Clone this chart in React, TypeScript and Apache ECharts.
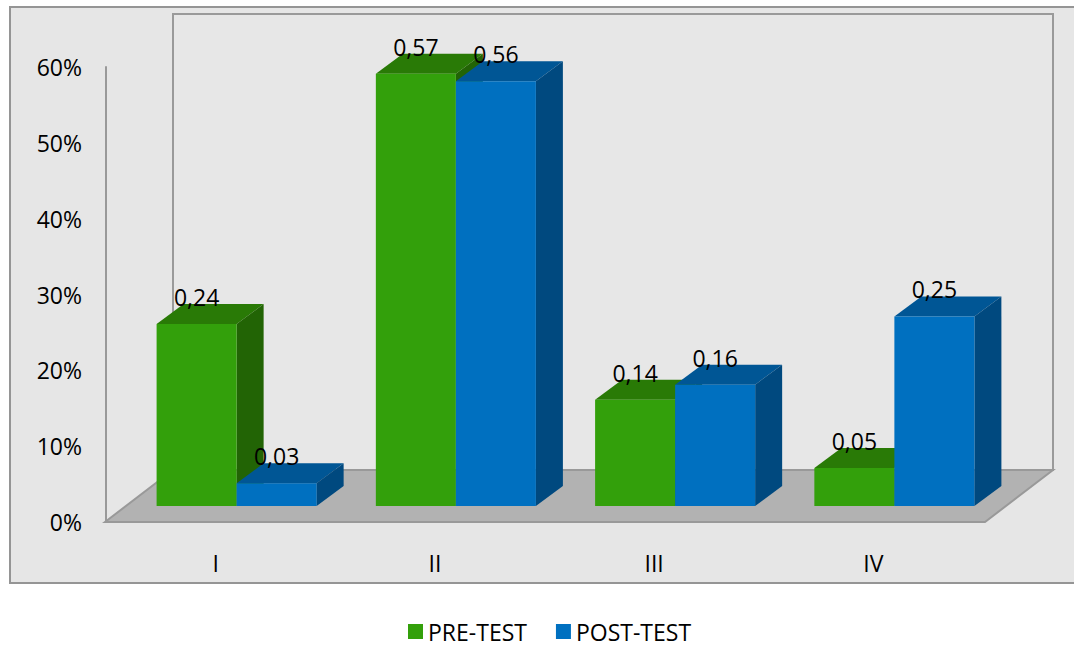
import { useEffect, useRef } from 'react';
import * as echarts from 'echarts';

// Chart data
const CATEGORIES = ['I', 'II', 'III', 'IV'];
const SERIES_NAMES = ['PRE-TEST', 'POST-TEST'];
const PRE_TEST = [0.24, 0.57, 0.14, 0.05];
const POST_TEST = [0.03, 0.56, 0.16, 0.25];
const Y_MAX = 0.6;
const Y_STEP = 0.1;

// Face colours of the 3D columns: front, top, right side
const FACES = [
  { front: '#33A00B', top: '#297A06', side: '#226405' },
  { front: '#0070C0', top: '#005695', side: '#00497F' },
];

const FONT = '"Open Sans", "Noto Sans", sans-serif';
const FONT_SIZE = 23;

// Oblique projection of the plot box
const W = 1074;
const H = 648;
const FRONT_LEFT = 106;
const FRONT_WIDTH = 877;
const FRONT_BOTTOM = 522;
const PLOT_HEIGHT = 455;
const BAR_SHIFT_X = 21; // columns stand in the middle of the floor's depth
const BAR_SHIFT_Y = 16;
const COL_DEPTH_X = 27;
const COL_DEPTH_Y = 20;
const FLOOR_DEPTH_X = 68;
const FLOOR_DEPTH_Y = 52;
const BAR_RATIO = 0.365; // column width as a share of the category band

const fmt = (v: number) => v.toFixed(2).replace('.', ',');

function makeRenderItem(seriesIdx: number) {
  const c = FACES[seriesIdx];
  return (params: any, api: any) => {
    const cat = api.value(0);
    const val = api.value(1);
    const base = api.coord([cat, 0]);
    const top = api.coord([cat, val]);
    const band = api.size([1, 0])[0];
    const bw = band * BAR_RATIO;
    const x0 = seriesIdx === 0 ? base[0] - bw : base[0];
    const x1 = x0 + bw;
    const yb = base[1];
    const yt = top[1];
    const dx = COL_DEPTH_X;
    const dy = COL_DEPTH_Y;
    return {
      type: 'group',
      children: [
        {
          type: 'polygon',
          shape: { points: [[x0, yt], [x0 + dx, yt - dy], [x1 + dx, yt - dy], [x1, yt]] },
          style: { fill: c.top },
        },
        {
          type: 'polygon',
          shape: { points: [[x1, yt], [x1 + dx, yt - dy], [x1 + dx, yb - dy], [x1, yb]] },
          style: { fill: c.side },
        },
        {
          type: 'rect',
          shape: { x: x0, y: yt, width: bw, height: yb - yt },
          style: { fill: c.front },
        },
        {
          type: 'text',
          style: {
            text: fmt(val),
            x: x0 + bw / 2,
            y: yt - 27,
            align: 'center',
            verticalAlign: 'middle',
            fill: '#000',
            fontSize: FONT_SIZE,
            fontFamily: FONT,
          },
        },
      ],
    };
  };
}

export default function App() {
  const ref = useRef<HTMLDivElement>(null);

  useEffect(() => {
    if (!ref.current) return;
    const chart = echarts.init(ref.current, undefined, { renderer: 'svg' });

    const floorBack = FRONT_BOTTOM - FLOOR_DEPTH_Y;
    const fl = FRONT_LEFT - 1;
    const fr = FRONT_LEFT + FRONT_WIDTH + 2;

    const option: any = {
      animation: false,
      backgroundColor: '#ffffff',
      textStyle: { fontFamily: FONT },
      graphic: [
        {
          type: 'rect',
          z: -10,
          shape: { x: 10, y: 7, width: 1074, height: 576 },
          style: { fill: '#e6e6e6', stroke: '#959595', lineWidth: 2 },
        },
        {
          type: 'rect',
          z: -9,
          shape: {
            x: fl + FLOOR_DEPTH_X,
            y: 14,
            width: fr - fl,
            height: floorBack - 14,
          },
          style: { fill: '#e7e7e7', stroke: '#9a9a9a', lineWidth: 2 },
        },
        {
          type: 'polygon',
          z: -8,
          shape: {
            points: [
              [fl, FRONT_BOTTOM],
              [fl + FLOOR_DEPTH_X, floorBack],
              [fr + FLOOR_DEPTH_X, floorBack],
              [fr, FRONT_BOTTOM],
            ],
          },
          style: { fill: '#b2b2b2', stroke: '#999999', lineWidth: 2 },
        },
      ],
      legend: {
        data: SERIES_NAMES,
        left: 408,
        top: 620,
        padding: 0,
        icon: 'rect',
        itemWidth: 15,
        itemHeight: 15,
        itemGap: 29,
        textStyle: { fontSize: FONT_SIZE, color: '#000', fontFamily: FONT },
      },
      grid: [
        {
          left: FRONT_LEFT,
          width: FRONT_WIDTH,
          top: FRONT_BOTTOM - PLOT_HEIGHT,
          height: PLOT_HEIGHT,
        },
        {
          left: FRONT_LEFT + BAR_SHIFT_X,
          width: FRONT_WIDTH,
          top: FRONT_BOTTOM - BAR_SHIFT_Y - PLOT_HEIGHT,
          height: PLOT_HEIGHT,
        },
      ],
      xAxis: [
        {
          type: 'category',
          gridIndex: 0,
          data: CATEGORIES,
          axisLine: { show: false },
          axisTick: { show: false },
          axisLabel: {
            margin: 29,
            fontSize: FONT_SIZE,
            color: '#000',
            fontFamily: FONT,
          },
        },
        {
          type: 'category',
          gridIndex: 1,
          data: CATEGORIES,
          show: false,
        },
      ],
      yAxis: [
        {
          type: 'value',
          gridIndex: 0,
          min: 0,
          max: Y_MAX,
          interval: Y_STEP,
          axisLine: { show: true, lineStyle: { color: '#999999', width: 2 } },
          axisTick: { show: false },
          splitLine: { show: false },
          axisLabel: {
            margin: 24,
            fontSize: FONT_SIZE,
            color: '#000',
            fontFamily: FONT,
            formatter: (v: number) => `${Math.round(v * 100)}%`,
          },
        },
        {
          type: 'value',
          gridIndex: 1,
          min: 0,
          max: Y_MAX,
          interval: Y_STEP,
          show: false,
        },
      ],
      series: [PRE_TEST, POST_TEST].map((values, si) => ({
        type: 'custom',
        name: SERIES_NAMES[si],
        xAxisIndex: 1,
        yAxisIndex: 1,
        clip: false,
        itemStyle: { color: FACES[si].front },
        encode: { x: 0, y: 1 },
        data: values.map((v, i) => [i, v]),
        renderItem: makeRenderItem(si),
      })),
    };

    chart.setOption(option);
    return () => chart.dispose();
  }, []);

  return (
    <div
      ref={ref}
      style={{ position: 'fixed', left: 0, top: 0, width: W, height: H }}
    />
  );
}
